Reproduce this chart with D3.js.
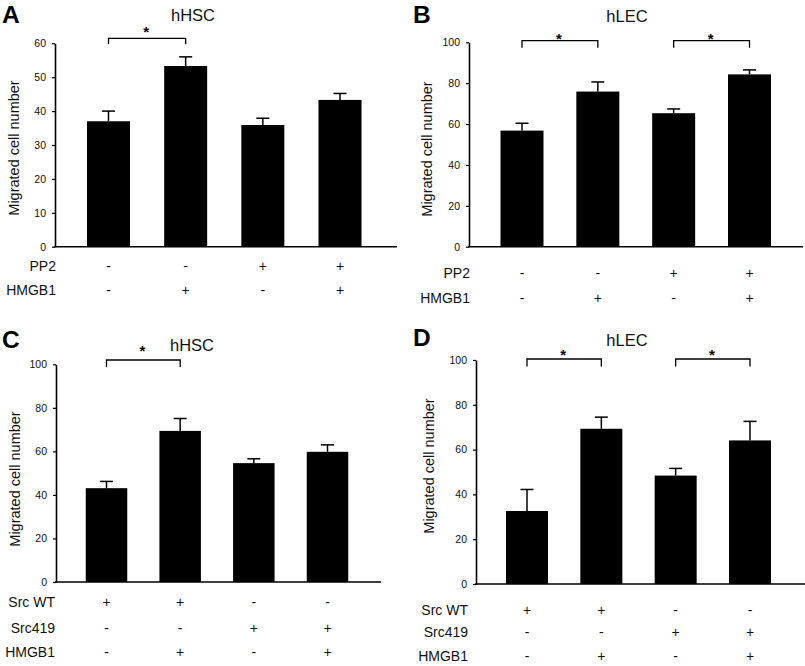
<!DOCTYPE html>
<html>
<head>
<meta charset="utf-8">
<script src="https://cdn.jsdelivr.net/npm/d3@7/dist/d3.min.js"></script>
<style>
  html, body { margin: 0; padding: 0; background: #fff; }
  svg { display: block; font-family: "Liberation Sans", Arial, sans-serif; }
</style>
</head>
<body>
<svg id="chart" width="805" height="666"></svg>
<script>
// ---------------- DATA ----------------
const conditions = ["c1", "c2", "c3", "c4"];

const aTitle = "hHSC";
const aMeans = [37.0, 53.3, 35.9, 43.3];
const aErrors = [3.0, 2.7, 2.0, 1.9];
const aTicks = [0, 10, 20, 30, 40, 50, 60];
const aRowLabels = ["PP2", "HMGB1"];
const aRowSigns = [["-", "-", "+", "+"], ["-", "+", "-", "+"]];
const aBrackets = [[0, 1]];

const bTitle = "hLEC";
const bMeans = [56.8, 75.9, 65.3, 84.3];
const bErrors = [3.6, 4.7, 2.1, 2.2];
const bTicks = [0, 20, 40, 60, 80, 100];
const bRowLabels = ["PP2", "HMGB1"];
const bRowSigns = [["-", "-", "+", "+"], ["-", "+", "-", "+"]];
const bBrackets = [[0, 1], [2, 3]];

const cTitle = "hHSC";
const cMeans = [43.1, 69.4, 54.6, 59.8];
const cErrors = [3.1, 5.7, 2.0, 3.2];
const cTicks = [0, 20, 40, 60, 80, 100];
const cRowLabels = ["Src WT", "Src419", "HMGB1"];
const cRowSigns = [["+", "+", "-", "-"], ["-", "-", "+", "+"], ["-", "+", "-", "+"]];
const cBrackets = [[0, 1]];

const dTitle = "hLEC";
const dMeans = [32.6, 69.3, 48.4, 64.1];
const dErrors = [9.6, 5.2, 3.2, 8.5];
const dTicks = [0, 20, 40, 60, 80, 100];
const dRowLabels = ["Src WT", "Src419", "HMGB1"];
const dRowSigns = [["+", "+", "-", "-"], ["-", "-", "+", "+"], ["-", "+", "-", "+"]];
const dBrackets = [[0, 1], [2, 3]];

const yLabel = "Migrated cell number";
const significance = "*";

// ---------------- LAYOUT ----------------
const svg = d3.select("#chart");

const panels = [
  { letter: "A", title: aTitle, means: aMeans, errors: aErrors, ticks: aTicks, yMax: 60,
    rows: aRowLabels, signs: aRowSigns, brackets: aBrackets,
    axisX: 55, yTop: 43.3, yZero: 246.7, xEnd: 397, c0: 108.5, c3: 340, barW: 43,
    rowY: [271, 295], labelEnd: 56, titleX: 193, titleY: 21, letterX: 2, letterY: 22.5,
    ylabX: 19, ylabY: 148, brY: 38.3, brDrop: 6, starCy: 29 },
  { letter: "B", title: bTitle, means: bMeans, errors: bErrors, ticks: bTicks, yMax: 100,
    rows: bRowLabels, signs: bRowSigns, brackets: bBrackets,
    axisX: 469, yTop: 42.3, yZero: 246.7, xEnd: 803, c0: 522, c3: 749.5, barW: 43,
    rowY: [278, 303], labelEnd: 470, titleX: 627, titleY: 22, letterX: 413, letterY: 22.5,
    ylabX: 432, ylabY: 149, brY: 40.7, brDrop: 7, starCy: 36 },
  { letter: "C", title: cTitle, means: cMeans, errors: cErrors, ticks: cTicks, yMax: 100,
    rows: cRowLabels, signs: cRowSigns, brackets: cBrackets,
    axisX: 56, yTop: 364.3, yZero: 582, xEnd: 381, c0: 106.5, c3: 327.5, barW: 41.5,
    rowY: [607, 633, 657], labelEnd: 55, titleX: 192, titleY: 351, letterX: 2, letterY: 348,
    ylabX: 20, ylabY: 479, brY: 360, brDrop: 7, starCy: 347.7 },
  { letter: "D", title: dTitle, means: dMeans, errors: dErrors, ticks: dTicks, yMax: 100,
    rows: dRowLabels, signs: dRowSigns, brackets: dBrackets,
    axisX: 476, yTop: 360, yZero: 584, xEnd: 805, c0: 527, c3: 750, barW: 42,
    rowY: [615, 637, 661], labelEnd: 468, titleX: 627, titleY: 346, letterX: 413, letterY: 346,
    ylabX: 434, ylabY: 466, brY: 359, brDrop: 7.5, starCy: 352.3 }
];

panels.forEach(p => {
  const g = svg.append("g");
  const x = d3.scalePoint().domain(conditions).range([p.c0, p.c3]);
  const y = d3.scaleLinear().domain([0, p.yMax]).range([p.yZero, p.yTop]);

  // panel letter
  g.append("text").attr("x", p.letterX).attr("y", p.letterY)
    .attr("font-size", 24.5).attr("font-weight", "bold").attr("fill", "#000")
    .text(p.letter);

  // title
  g.append("text").attr("x", p.titleX).attr("y", p.titleY)
    .attr("text-anchor", "middle").attr("font-size", 16.5).attr("fill", "#111")
    .text(p.title);

  // y axis label
  g.append("text")
    .attr("transform", `translate(${p.ylabX},${p.ylabY}) rotate(-90)`)
    .attr("text-anchor", "middle").attr("font-size", 14.5).attr("fill", "#111")
    .text(yLabel);

  // bars
  const data = conditions.map((c, i) => ({ c, m: p.means[i], e: p.errors[i] }));
  g.selectAll("rect.bar").data(data).join("rect")
    .attr("class", "bar")
    .attr("x", d => x(d.c) - p.barW / 2)
    .attr("width", p.barW)
    .attr("y", d => y(d.m))
    .attr("height", d => y(0) - y(d.m))
    .attr("fill", "#000");

  // error bars (upper whisker)
  g.selectAll("line.err").data(data).join("line")
    .attr("class", "err")
    .attr("x1", d => x(d.c)).attr("x2", d => x(d.c))
    .attr("y1", d => y(d.m)).attr("y2", d => y(d.m + d.e))
    .attr("stroke", "#000").attr("stroke-width", 1.5);
  g.selectAll("line.cap").data(data).join("line")
    .attr("class", "cap")
    .attr("x1", d => x(d.c) - 6.5).attr("x2", d => x(d.c) + 6.5)
    .attr("y1", d => y(d.m + d.e)).attr("y2", d => y(d.m + d.e))
    .attr("stroke", "#000").attr("stroke-width", 1.5);

  // y axis
  const ax = g.append("g").attr("transform", `translate(${p.axisX},0)`)
    .call(d3.axisLeft(y).tickValues(p.ticks).tickSize(3).tickSizeOuter(0).tickPadding(6));
  ax.select(".domain").attr("stroke", "#000").attr("stroke-width", 1.6);
  ax.selectAll(".tick line").attr("stroke", "#000").attr("stroke-width", 1.2);
  ax.selectAll(".tick text").attr("font-size", 10.5).attr("fill", "#111")
    .attr("font-family", "Liberation Sans, Arial, sans-serif");

  // x axis baseline
  g.append("line").attr("x1", p.axisX - 0.8).attr("x2", p.xEnd)
    .attr("y1", y(0)).attr("y2", y(0))
    .attr("stroke", "#000").attr("stroke-width", 1.6);

  // significance brackets
  p.brackets.forEach(([i, j]) => {
    const x1 = x(conditions[i]), x2 = x(conditions[j]);
    g.append("path")
      .attr("d", `M${x1},${p.brY + p.brDrop}V${p.brY}H${x2}V${p.brY + p.brDrop}`)
      .attr("fill", "none").attr("stroke", "#000").attr("stroke-width", 1.3);
    g.append("text").attr("x", (x1 + x2) / 2 - 1).attr("y", p.starCy + 8)
      .attr("text-anchor", "middle").attr("font-size", 15).attr("font-weight", "bold")
      .attr("fill", "#000").text(significance);
  });

  // treatment rows
  p.rows.forEach((lab, r) => {
    g.append("text").attr("x", p.labelEnd).attr("y", p.rowY[r])
      .attr("text-anchor", "end").attr("font-size", 14).attr("fill", "#111")
      .text(lab);
    g.selectAll(null).data(conditions).join("text")
      .attr("x", c => x(c)).attr("y", p.rowY[r])
      .attr("text-anchor", "middle").attr("font-size", 14).attr("fill", "#111")
      .text((c, k) => p.signs[r][k]);
  });
});
</script>
</body>
</html>
